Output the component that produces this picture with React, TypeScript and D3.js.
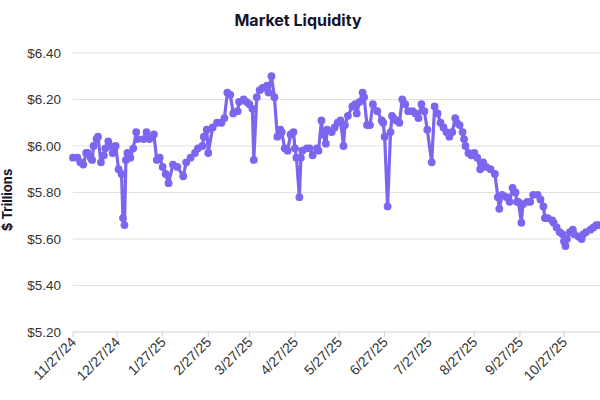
import React from "react";
import * as d3 from "d3";

const title = "Market Liquidity";
const yAxisTitle = "$ Trillions";

const dates = [
"2024-11-27","2024-11-30","2024-12-02","2024-12-04","2024-12-06","2024-12-07","2024-12-09","2024-12-10","2024-12-11","2024-12-13","2024-12-14","2024-12-16","2024-12-18","2024-12-19","2024-12-21","2024-12-22","2024-12-24","2024-12-25","2024-12-26","2024-12-28","2024-12-30","2024-12-31","2025-01-01","2025-01-02","2025-01-03","2025-01-05","2025-01-07","2025-01-09","2025-01-10","2025-01-14","2025-01-16","2025-01-18","2025-01-21","2025-01-23","2025-01-25","2025-01-27","2025-01-29","2025-01-31","2025-02-03","2025-02-06","2025-02-10","2025-02-12","2025-02-15","2025-02-18","2025-02-20","2025-02-23","2025-02-24","2025-02-26","2025-02-27","2025-03-02","2025-03-05","2025-03-08","2025-03-10","2025-03-12","2025-03-14","2025-03-16","2025-03-19","2025-03-20","2025-03-23","2025-03-25","2025-03-27","2025-03-29","2025-03-30","2025-04-01","2025-04-03","2025-04-05","2025-04-08","2025-04-09","2025-04-11","2025-04-13","2025-04-15","2025-04-17","2025-04-18","2025-04-20","2025-04-22","2025-04-24","2025-04-26","2025-04-27","2025-04-28","2025-04-30","2025-05-01","2025-05-02","2025-05-05","2025-05-07","2025-05-09","2025-05-12","2025-05-13","2025-05-15","2025-05-16","2025-05-18","2025-05-19","2025-05-22","2025-05-24","2025-05-26","2025-05-28","2025-05-30","2025-05-31","2025-06-02","2025-06-05","2025-06-07","2025-06-08","2025-06-10","2025-06-12","2025-06-13","2025-06-15","2025-06-17","2025-06-19","2025-06-22","2025-06-25","2025-06-26","2025-06-27","2025-06-29","2025-07-01","2025-07-02","2025-07-03","2025-07-05","2025-07-07","2025-07-09","2025-07-11","2025-07-13","2025-07-16","2025-07-18","2025-07-20","2025-07-22","2025-07-24","2025-07-26","2025-07-29","2025-07-31","2025-08-02","2025-08-04","2025-08-06","2025-08-08","2025-08-10","2025-08-12","2025-08-14","2025-08-15","2025-08-17","2025-08-19","2025-08-20","2025-08-21","2025-08-23","2025-08-25","2025-08-27","2025-08-29","2025-08-31","2025-09-02","2025-09-04","2025-09-07","2025-09-10","2025-09-12","2025-09-13","2025-09-15","2025-09-18","2025-09-20","2025-09-22","2025-09-24","2025-09-25","2025-09-26","2025-09-28","2025-09-29","2025-10-02","2025-10-04","2025-10-06","2025-10-09","2025-10-11","2025-10-13","2025-10-14","2025-10-16","2025-10-19","2025-10-20","2025-10-22","2025-10-24","2025-10-26","2025-10-27","2025-10-28","2025-10-29","2025-10-31","2025-11-02","2025-11-03","2025-11-06","2025-11-08","2025-11-09","2025-11-11","2025-11-14","2025-11-16","2025-11-18","2025-11-20"
];

const values = [
5.95,5.95,5.93,5.92,5.97,5.97,5.95,5.94,6.00,6.03,6.04,5.93,5.96,5.99,6.02,6.00,5.97,5.99,6.00,5.90,5.88,5.69,5.66,5.94,5.97,5.95,5.99,6.06,6.03,6.03,6.06,6.03,6.05,5.94,5.95,5.91,5.88,5.84,5.92,5.91,5.87,5.93,5.95,5.97,5.99,6.00,6.04,6.07,5.97,6.08,6.10,6.10,6.12,6.23,6.22,6.14,6.15,6.19,6.20,6.19,6.18,6.16,5.94,6.21,6.24,6.25,6.26,6.23,6.30,6.21,6.04,6.07,6.06,5.99,5.98,6.05,6.06,5.99,5.95,5.78,5.95,5.98,5.99,5.99,5.96,5.99,5.98,6.11,6.05,6.01,6.07,6.06,6.08,6.10,6.11,6.00,6.09,6.13,6.17,6.18,6.14,6.19,6.23,6.21,6.09,6.09,6.18,6.15,6.11,6.10,6.04,5.74,6.06,6.13,6.12,6.11,6.10,6.20,6.18,6.15,6.15,6.14,6.12,6.18,6.15,6.07,5.93,6.17,6.14,6.10,6.08,6.06,6.04,6.06,6.12,6.10,6.09,6.06,6.03,6.00,5.97,5.96,5.97,5.95,5.90,5.93,5.91,5.90,5.88,5.78,5.73,5.79,5.78,5.76,5.82,5.80,5.76,5.76,5.67,5.75,5.76,5.76,5.79,5.79,5.77,5.74,5.69,5.69,5.68,5.67,5.65,5.63,5.62,5.59,5.57,5.60,5.63,5.64,5.62,5.61,5.60,5.62,5.63,5.64,5.65,5.66,5.66
];

const yTicks = [5.2, 5.4, 5.6, 5.8, 6.0, 6.2, 6.4];
const xTickLabels = ["2024-11-27","2024-12-27","2025-01-27","2025-02-27","2025-03-27","2025-04-27","2025-05-27","2025-06-27","2025-07-27","2025-08-27","2025-09-27","2025-10-27"];

const W = 600;
const H = 400;
const LINE_COLOR = "#7b66f0";
const FONT = "Inter, 'Liberation Sans', Arial, sans-serif";
const LABEL_FONT = "'Liberation Sans', Arial, sans-serif";

export default function App() {
  const parse = d3.timeParse("%Y-%m-%d");
  const fmt = d3.timeFormat("%-m/%-d/%y");
  const data = dates.map((d, i) => ({ date: parse(d) as Date, value: values[i] }));
  const ticks = xTickLabels.map((d) => parse(d) as Date);

  const left = 73;
  const x = d3.scaleTime().domain([ticks[0], ticks[ticks.length - 1]]).range([left, 564]);
  const y = d3.scaleLinear().domain([5.2, 6.4]).range([332, 53]);

  const line = d3
    .line<{ date: Date; value: number }>()
    .x((d) => x(d.date))
    .y((d) => y(d.value));

  const yFmt = (v: number) => "$" + v.toFixed(2);

  return (
    <svg width={W} height={H} style={{ position: "absolute", left: 0, top: 0, background: "#fff" }} fontFamily={FONT}>
      <rect x={0} y={0} width={W} height={H} fill="#fff" />
      <text x={298} y={26} textAnchor="middle" fontSize={16} fontWeight={700} fill="#14142b">
        {title}
      </text>
      <text
        transform={`translate(12, 200) rotate(-90)`}
        textAnchor="middle"
        fontSize={13}
        fontWeight={700}
        fill="#14142b"
      >
        {yAxisTitle}
      </text>
      {yTicks.map((t) => (
        <g key={t}>
          <line x1={left} x2={W} y1={y(t)} y2={y(t)} stroke={t === 5.2 ? "#cfcfcf" : "#e2e2e2"} strokeWidth={1} />
          <text x={61} y={y(t)} dy="0.35em" textAnchor="end" fontSize={13.5} fill="#333" fontFamily={LABEL_FONT}>
            {yFmt(t)}
          </text>
        </g>
      ))}
      {ticks.map((t, i) => (
        <g key={i}>
          <line x1={x(t)} x2={x(t)} y1={332} y2={337} stroke="#cfcfcf" />
          <text
            transform={`translate(${x(t) + 4}, 343) rotate(-45)`}
            textAnchor="end"
            fontSize={14}
            fill="#333"
            fontFamily={LABEL_FONT}
          >
            {fmt(t)}
          </text>
        </g>
      ))}
      <path d={line(data) || ""} fill="none" stroke={LINE_COLOR} strokeWidth={3.2} strokeLinejoin="round" />
      {data.map((d, i) => (
        <circle key={i} cx={x(d.date)} cy={y(d.value)} r={3.9} fill={LINE_COLOR} />
      ))}
    </svg>
  );
}
